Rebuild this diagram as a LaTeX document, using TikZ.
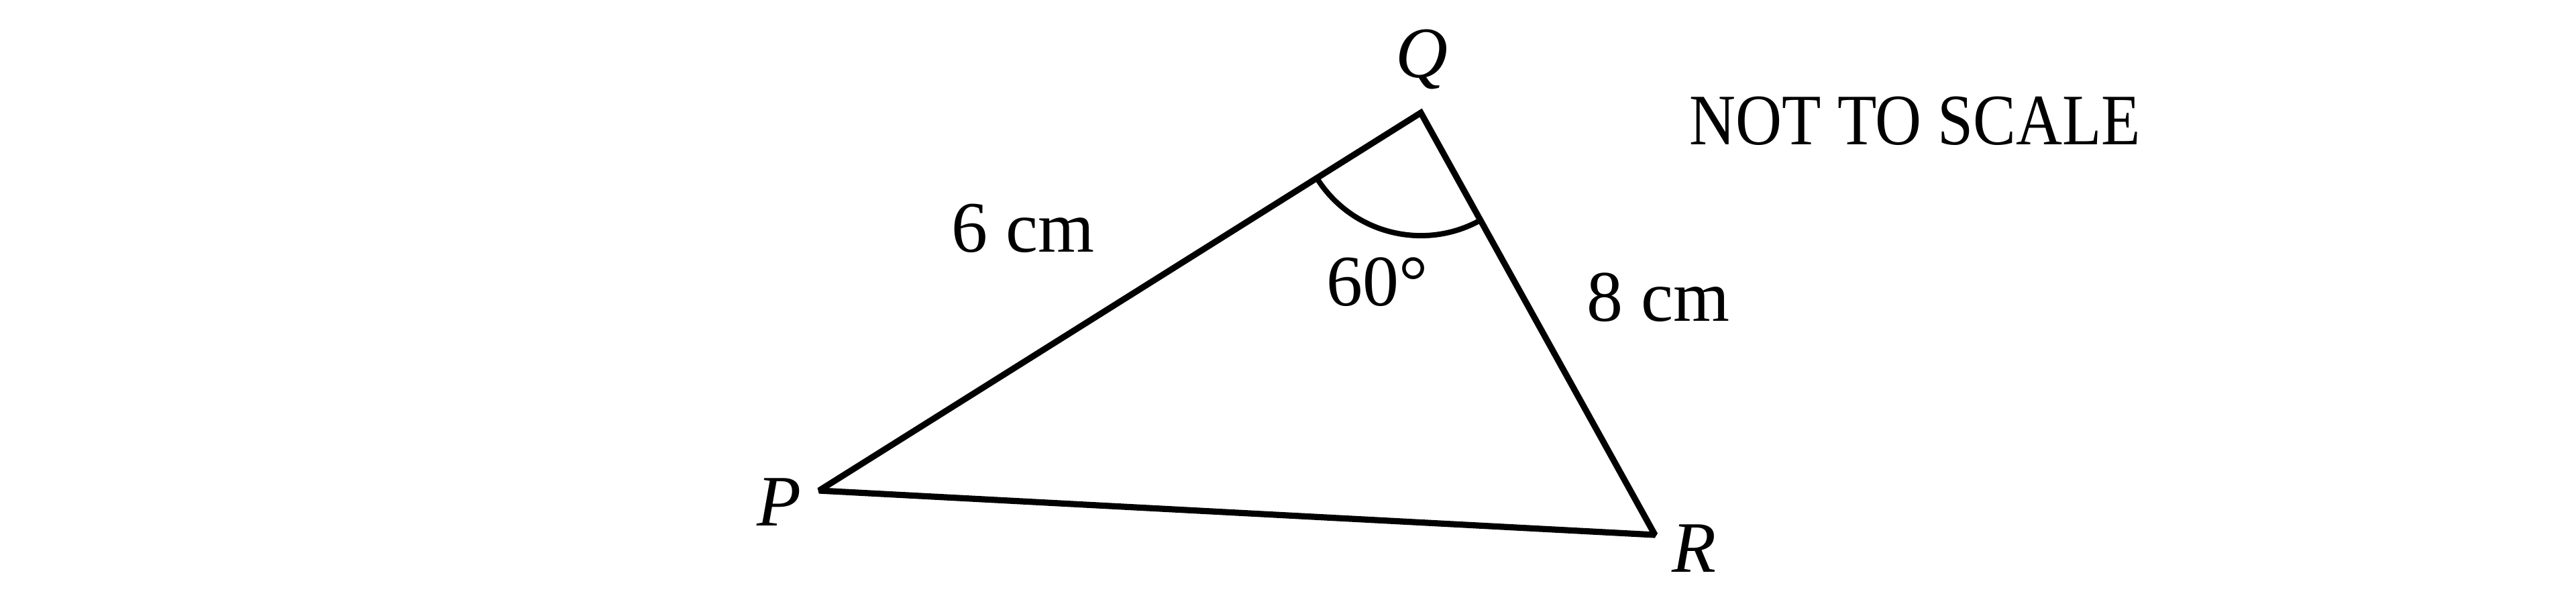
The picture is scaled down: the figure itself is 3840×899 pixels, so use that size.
\documentclass[tikz,border=0pt]{standalone}
\usepackage{fontspec}
\setmainfont{Liberation Serif}
\newfontfamily\capsfont[FakeStretch=0.885]{Liberation Serif}
\begin{document}
\begin{tikzpicture}[x=0.01cm,y=-0.01cm,
  lbl/.style={inner sep=0pt,anchor=base,font=\fontsize{30.7}{36}\selectfont},
  edge/.style={line width=0.092cm,line join=miter,miter limit=2,black},
  anglearc/.style={line width=0.08cm,black}]
\useasboundingbox (0,0) rectangle (3840,899);
\coordinate (P) at (1221,731);
\coordinate (Q) at (2118,168);
\coordinate (R) at (2467,797);
\draw[edge] (P) -- (Q) -- (R) -- cycle;
\draw[anglearc] (Q) ++(-60.9:1.83cm) arc[start angle=-60.9,end angle=-147.9,radius=1.83cm];
\node[lbl] (lQ) at (2119,115) {\itshape Q};
\node[lbl] (lP) at (1161,783) {\itshape P};
\node[lbl] (lR) at (2525,852) {\itshape R};
\node[lbl] (l6) at (1525,375) {6 cm};
\node[lbl] (l60) at (2053,455) {60°};
\node[lbl] (l8) at (2472,478) {8 cm};
\node[lbl,font=\capsfont\fontsize{30.7}{36}\selectfont] (nts) at (2855,215) {NOT TO SCALE};
\end{tikzpicture}
\end{document}
